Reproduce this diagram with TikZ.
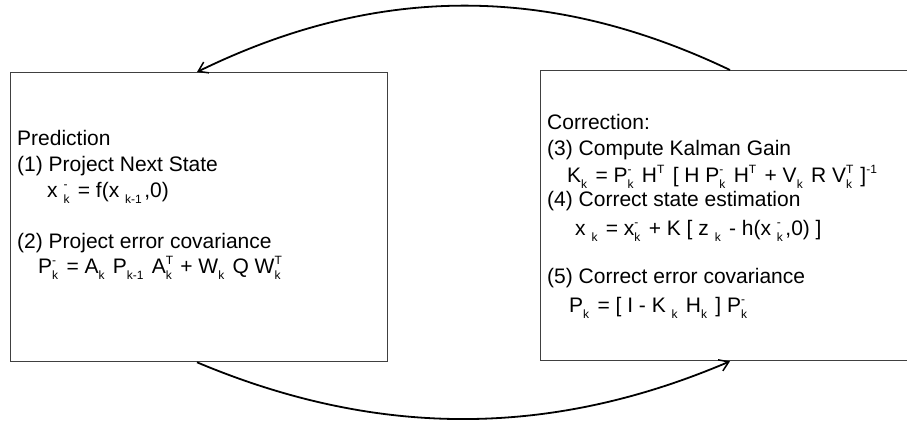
\documentclass[tikz,border=0pt]{standalone}
\usepackage{fontspec}
\setmainfont{Liberation Sans}
\usetikzlibrary{arrows.meta,calc}
\newcommand\dn[1]{\raisebox{-6pt}{\fontsize{12}{12}\selectfont #1}\hspace{2.5pt}}
\newcommand\up[1]{\raisebox{9pt}{\fontsize{12}{12}\selectfont #1}\hspace{2.5pt}}
\newcommand\ud[2]{\rlap{\raisebox{9pt}{\fontsize{12}{12}\selectfont #1}}\dn{#2}}
\tikzset{
  panel/.style={draw=black!75, line width=1.3pt, rectangle, inner sep=0pt, anchor=north west},
  txt/.style={anchor=base west, inner sep=0pt, font=\fontsize{21}{25}\selectfont},
  flow/.style={draw=black, line width=1.8pt, -{Straight Barb[length=9pt,width=12pt,line width=1.5pt]}},
}
\begin{document}
\begin{tikzpicture}[x=1pt,y=-1pt]
\useasboundingbox (0,0) rectangle (907,423);
\fill[white] (0,0) rectangle (907,423);
\node[panel, minimum width=377pt, minimum height=289pt] (left) at (10,72) {};
\begin{scope}
\clip (0,0) rectangle (907,423);
\node[panel, minimum width=380pt, minimum height=290pt] (right) at (540,70) {};
\end{scope}
% left text
\node[txt] (l1) at (17,145) {Prediction};
\node[txt] (l2) at (17,171) {(1) Project Next State};
\node[txt] (l3) at (47,197) {x \ud{-}{k} = f(x \dn{k-1},0)};
\node[txt] (l4) at (17,248) {(2) Project error covariance};
\node[txt] (l5) at (38,273) {P\ud{-}{k} = A\dn{k} P\dn{k-1} A\ud{T}{k} + W\dn{k} Q W\ud{T}{k}};
% right text
\node[txt] (r1) at (547,129) {Correction:};
\node[txt] (r2) at (547,155) {(3) Compute Kalman Gain};
\node[txt] (r3) at (567,182) {K\dn{k} = P\ud{-}{k} H\up{T} [ H P\ud{-}{k} H\up{T} + V\dn{k} R V\ud{T}{k} ]\up{-1}};
\node[txt] (r4) at (547,206) {(4) Correct state estimation};
\node[txt] (r5) at (575,235) {x \dn{k} = x\ud{-}{k} + K [ z \dn{k} - h(x \ud{-}{k},0) ]};
\node[txt] (r6) at (547,283) {(5) Correct error covariance};
\node[txt] (r7) at (569,312) {P\dn{k} = [ I - K \dn{k} H\dn{k} ] P\ud{-}{k}};
% arcs
\coordinate (ta) at ($(right.north west)+(190,0)$);
\coordinate (tb) at ($(left.north west)+(187,0)$);
\coordinate (ba) at ($(left.south west)+(187,0)$);
\coordinate (bb) at ($(right.south west)+(190,0)$);
\draw[flow] (ta) .. controls (550,-16) and (377,-16) .. (tb);
\draw[flow] (ba) .. controls (377,438) and (550,438) .. (bb);
\end{tikzpicture}
\end{document}
